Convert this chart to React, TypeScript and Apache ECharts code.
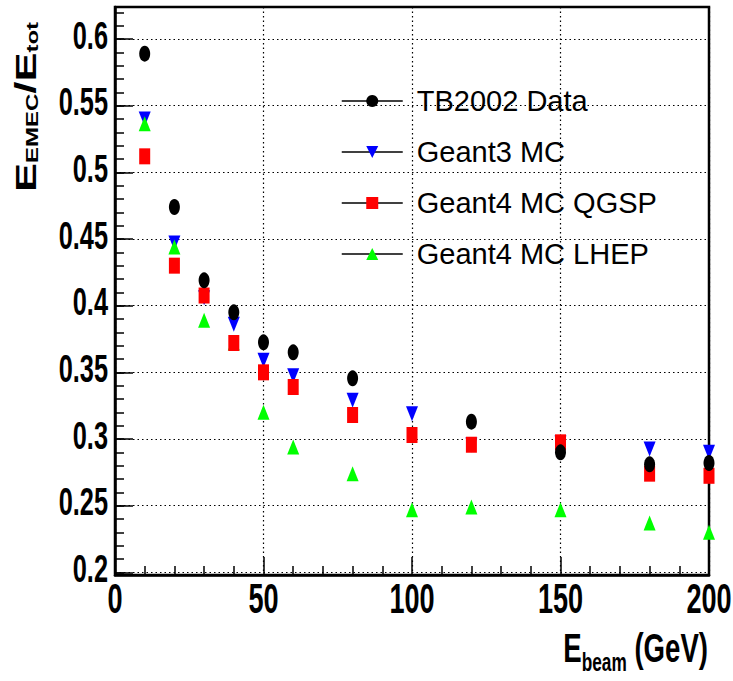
import React, { useEffect, useRef } from "react";
import * as echarts from "echarts";

const SANS = '"Liberation Sans", Arial, Helvetica, sans-serif';

const seriesNames = ["TB2002 Data", "Geant3 MC", "Geant4 MC QGSP", "Geant4 MC LHEP"];

const tbEnergy = [10, 20, 30, 40, 50, 60, 80, 120, 150, 180, 200];
const tbValues = [0.589, 0.474, 0.419, 0.395, 0.3725, 0.365, 0.3455, 0.313, 0.29, 0.281, 0.282];

const mcEnergy = [10, 20, 30, 40, 50, 60, 80, 100, 120, 150, 180, 200];
const g3Values = [0.54, 0.447, 0.406, 0.386, 0.359, 0.3475, 0.329, 0.319, 0.2955, 0.297, 0.2925, 0.29];
const qgspValues = [0.512, 0.43, 0.4076, 0.372, 0.35, 0.339, 0.318, 0.303, 0.2957, 0.2975, 0.274, 0.2724];
const lhepValues = [0.5365, 0.444, 0.389, 0.372, 0.32, 0.294, 0.274, 0.247, 0.249, 0.247, 0.237, 0.23];

const xTickLabels = ["0", "50", "100", "150", "200"];
const yTickLabels = ["0.2", "0.25", "0.3", "0.35", "0.4", "0.45", "0.5", "0.55", "0.6"];

const xMin = 0;
const xMax = 200;
const xMajor = 50;
const yMin = 0.198;
const yMax = 0.624;

const pairs = (xs: number[], ys: number[]) => xs.map((x, i) => [x, ys[i]]);

export default function App() {
  const ref = useRef<HTMLDivElement>(null);

  useEffect(() => {
    if (!ref.current) return;
    const chart = echarts.init(ref.current, null, { renderer: "svg" });

    const mk = (name: string, data: number[][], symbol: string, color: string, size: number[], rotate = 0, z = 2) => ({
      name,
      type: "line",
      data,
      symbol,
      symbolSize: size,
      symbolRotate: rotate,
      showSymbol: true,
      showAllSymbol: true,
      lineStyle: { width: 0, opacity: 0 },
      itemStyle: { color, opacity: 1 },
      emphasis: { disabled: true },
      z,
    });

    const option: any = {
      animation: false,
      backgroundColor: "#ffffff",
      grid: {
        left: 115,
        right: 24,
        top: 7,
        bottom: 106,
        outerBoundsMode: "none",
        containLabel: false,
        show: true,
        borderColor: "#000",
        borderWidth: 2.5,
        backgroundColor: "transparent",
      },
      xAxis: {
        type: "value",
        min: xMin,
        max: xMax,
        interval: xMajor,
        axisLine: { show: true, onZero: false, lineStyle: { color: "#000", width: 2.5 } },
        axisTick: { show: true, inside: true, length: 18, lineStyle: { color: "#000", width: 1.5 } },
        minorTick: { show: true, splitNumber: 5, length: 9, lineStyle: { color: "#000", width: 1.5 } },
        splitLine: { show: true, lineStyle: { color: "#000", width: 1.2, type: [1.5, 3] } },
        axisLabel: { show: false },
      },
      yAxis: [
        {
          type: "value",
          min: yMin,
          max: yMax,
          splitNumber: 8,
          position: "left",
          axisLine: { show: true, onZero: false, lineStyle: { color: "#000", width: 2.5 } },
          axisTick: { show: true, inside: true, length: 18, lineStyle: { color: "#000", width: 1.5 } },
          splitLine: { show: true, lineStyle: { color: "#000", width: 1.2, type: [1.5, 3] } },
          axisLabel: { show: false },
        },
        {
          type: "value",
          min: yMin,
          max: yMax,
          splitNumber: 42,
          position: "left",
          offset: 0,
          axisLine: { show: false },
          axisTick: { show: true, inside: true, length: 9, lineStyle: { color: "#000", width: 1.5 } },
          splitLine: { show: false },
          axisLabel: { show: false },
        },
      ],
      legend: {
        data: seriesNames,
        orient: "vertical",
        left: 336,
        top: 78,
        itemWidth: 61,
        itemHeight: 15,
        itemGap: 15,
        selectedMode: false,
        textStyle: {
          fontFamily: SANS,
          fontSize: 29,
          color: "#000",
          lineHeight: 36,
          padding: [0, 0, 0, 9],
        },
        lineStyle: { color: "#000", width: 1.5, opacity: 1, type: "solid" },
      },
      series: [
        mk(seriesNames[1], pairs(mcEnergy, g3Values), "triangle", "#0000ff", [12, 15], 180, 2),
        mk(seriesNames[3], pairs(mcEnergy, lhepValues), "triangle", "#00ff00", [12, 15], 0, 3),
        mk(seriesNames[2], pairs(mcEnergy, qgspValues), "rect", "#ff0000", [11, 16], 0, 4),
        mk(seriesNames[0], pairs(tbEnergy, tbValues), "circle", "#000000", [11, 16], 0, 5),
      ],
    };

    chart.setOption(option);

    // tick labels placed through the axes' own scales (condensed like the original)
    const axisBottom = chart.convertToPixel({ yAxisIndex: 0 }, yMin) as number;
    const axisLeft = chart.convertToPixel({ xAxisIndex: 0 }, xMin) as number;

    const xLabelEls = xTickLabels.map((t) => ({
      type: "text",
      x: chart.convertToPixel({ xAxisIndex: 0 }, Number(t)) as number,
      y: axisBottom + 23,
      scaleX: 0.63,
      silent: true,
      style: {
        text: t,
        fontFamily: SANS,
        fontWeight: "bold",
        fontSize: 43,
        fill: "#000",
        align: "center",
        verticalAlign: "middle",
      },
    }));

    const yLabelEls = yTickLabels.map((t) => ({
      type: "text",
      x: axisLeft - 7,
      y: (chart.convertToPixel({ yAxisIndex: 0 }, Number(t)) as number) - 4,
      scaleX: 0.65,
      silent: true,
      style: {
        text: t,
        fontFamily: SANS,
        fontWeight: "bold",
        fontSize: 39,
        fill: "#000",
        align: "right",
        verticalAlign: "middle",
      },
    }));

    const titleEls = [
      {
        type: "text",
        x: 708,
        y: 652,
        scaleX: 0.69,
        silent: true,
        style: {
          text: "{b|E}{s|beam}{b| (GeV)}",
          align: "right",
          verticalAlign: "middle",
          rich: {
            b: { fontFamily: SANS, fontWeight: "bold", fontSize: 40, fill: "#000", padding: [0, 0, 7, 0] },
            s: { fontFamily: SANS, fontWeight: "bold", fontSize: 25, fill: "#000", verticalAlign: "bottom" },
          },
        },
      },
      {
        type: "text",
        x: 26,
        y: 192,
        rotation: Math.PI / 2,
        scaleX: 1.5,
        silent: true,
        style: {
          text: "{b|E}{s|EMEC}{b|/E}{s|tot}",
          align: "left",
          verticalAlign: "middle",
          rich: {
            b: { fontFamily: SANS, fontWeight: "bold", fontSize: 29, fill: "#000" },
            s: { fontFamily: SANS, fontWeight: "bold", fontSize: 16, fill: "#000", verticalAlign: "bottom" },
          },
        },
      },
    ];

    chart.setOption({ graphic: [...xLabelEls, ...yLabelEls, ...titleEls] });

    return () => chart.dispose();
  }, []);

  return (
    <div
      ref={ref}
      style={{ position: "fixed", left: 0, top: 0, width: 733, height: 681, background: "#fff" }}
    />
  );
}
